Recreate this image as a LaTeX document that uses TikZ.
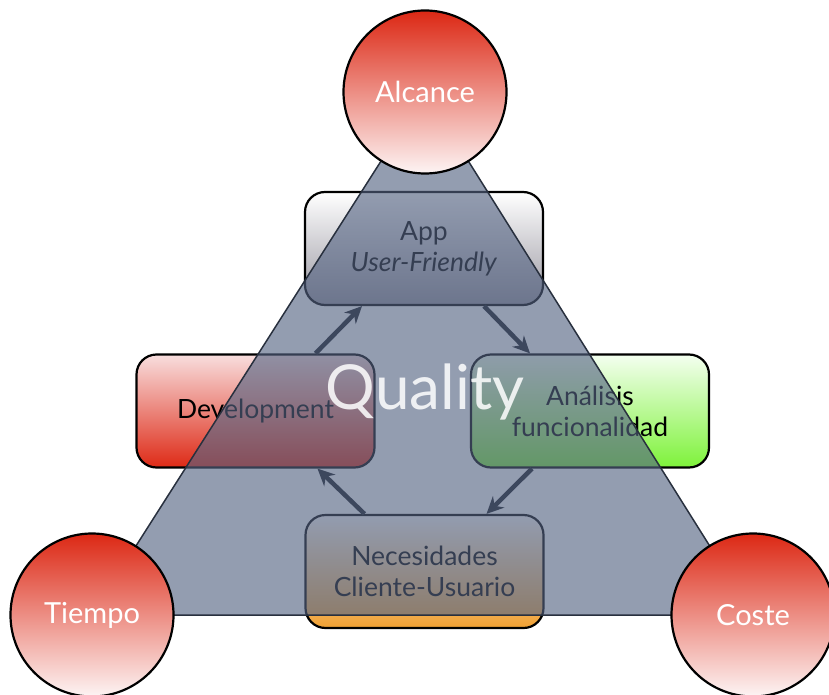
\documentclass[tikz,border=0pt]{standalone}
\usepackage{fontspec}
\setmainfont{Lato}
\usetikzlibrary{arrows.meta}
\definecolor{slate}{RGB}{84,99,130}
\definecolor{edgegrey}{RGB}{40,48,62}
\definecolor{flowgrey}{RGB}{20,24,32}
\definecolor{topred}{RGB}{220,40,20}
\definecolor{midred}{RGB}{230,118,114}
\definecolor{lowred}{RGB}{253,244,244}
\definecolor{pinktop}{RGB}{248,222,222}
\definecolor{redlow}{RGB}{222,42,22}
\definecolor{greentop}{RGB}{244,255,240}
\definecolor{greenlow}{RGB}{126,242,58}
\definecolor{greylow}{RGB}{152,150,160}
\definecolor{orangelow}{RGB}{240,160,50}

\begin{document}
\begin{tikzpicture}[x=1pt,y=-1pt,
    phase/.style={draw=black,line width=2.2pt,rounded corners=20pt,
      minimum width=238pt,minimum height=113pt,align=center,
      font=\fontsize{26.5}{31}\selectfont},
    corner/.style={circle,draw=black,line width=2.2pt,minimum size=163pt,
      top color=topred,middle color=midred,bottom color=lowred,
      text=white,font=\fontsize{29}{33}\selectfont},
    flow/.style={draw=flowgrey,line width=4.5pt,-{Stealth[length=17pt,width=16pt]}}]
    \useasboundingbox (0,0) rectangle (829,695);

    %% corners of the triangle
    \coordinate (top) at (425,92);
    \coordinate (left) at (92,615);
    \coordinate (right) at (753,615);

    %% the four phases
    \node[phase,top color=white,bottom color=greylow] (app) at (424,248.5) {App\\\textit{User-Friendly}};
    \node[phase,top color=pinktop,bottom color=redlow] (dev) at (255.5,411) {Development};
    \node[phase,top color=greentop,bottom color=greenlow] (ana) at (590,411) {Análisis\\funcionalidad};
    \node[phase,top color=white,bottom color=orangelow] (nec) at (424.5,571.5) {Necesidades\\Cliente-Usuario};

    \draw[flow] ([xshift=60pt]dev.north) -- ([xshift=-62pt]app.south);
    \draw[flow] ([xshift=60pt]app.south) -- ([xshift=-60pt]ana.north);
    \draw[flow] ([xshift=-58pt]ana.south) -- ([xshift=62pt]nec.north);
    \draw[flow] ([xshift=-60pt]nec.north) -- ([xshift=62pt]dev.south);

    %% the triangle over it all
    \fill[slate,fill opacity=0.63] (top) -- (left) -- (right) -- cycle;
    \draw[edgegrey,line width=1.5pt] (top) -- (left) -- (right) -- cycle;

    \node[text=white,text opacity=0.85,font=\fontsize{62}{70}\selectfont] (quality) at (425,392) {Quality};

    \node[corner] (alcance) at (top) {Alcance};
    \node[corner] (tiempo) at (left) {Tiempo};
    \node[corner] (coste) at (right) {Coste};
\end{tikzpicture}
\end{document}
